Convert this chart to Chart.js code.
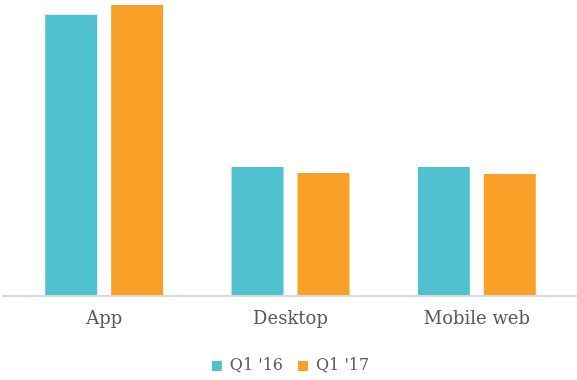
<!DOCTYPE html>
<html>
<head>
<meta charset="utf-8">
<script src="https://cdn.jsdelivr.net/npm/chart.js@4/dist/chart.umd.min.js"></script>
<style>
  html, body { margin: 0; padding: 0; background: #ffffff; }
  #wrap { width: 577px; height: 380px; position: relative; }
</style>
</head>
<body>
<div id="wrap"><canvas id="c"></canvas></div>
<script>
const categories = ["App", "Desktop", "Mobile web"];
const seriesNames = ["Q1 '16", "Q1 '17"];
const q1_16 = [96.6, 44.1, 44.1];
const q1_17 = [100, 42.1, 41.7];
const colors = ["#4fc1cf", "#f9a028"];

const baseline = {
  id: 'baseline',
  afterDatasetsDraw(chart) {
    const y = chart.scales.y.getPixelForValue(0);
    const ctx = chart.ctx;
    ctx.save();
    ctx.strokeStyle = '#d9d9d9';
    ctx.lineWidth = 2;
    ctx.beginPath();
    ctx.moveTo(2, y + 1);
    ctx.lineTo(chart.width, y + 1);
    ctx.stroke();
    ctx.restore();
  }
};

new Chart(document.getElementById('c'), {
  type: 'bar',
  data: {
    labels: categories,
    datasets: [
      { label: seriesNames[0], data: q1_16, backgroundColor: colors[0] },
      { label: seriesNames[1], data: q1_17, backgroundColor: colors[1] }
    ]
  },
  options: {
    responsive: true,
    maintainAspectRatio: false,
    animation: false,
    devicePixelRatio: 1,
    categoryPercentage: 0.708,
    barPercentage: 0.788,
    layout: { padding: { left: 11, right: 7, top: 5, bottom: -4 } },
    scales: {
      x: {
        grid: { display: false, drawTicks: false },
        border: { display: false },
        ticks: { color: '#595959', font: { family: 'DejaVu Serif', size: 18 }, padding: 14 },
        afterFit(scale) { scale.height = 48; }
      },
      y: { display: false, min: 0, max: 100 }
    },
    plugins: {
      legend: {
        position: 'bottom',
        labels: {
          boxWidth: 10, boxHeight: 10, padding: 15,
          color: '#595959',
          font: { family: 'DejaVu Serif', size: 16 }
        }
      },
      tooltip: { enabled: false }
    }
  },
  plugins: [baseline]
});
</script>
</body>
</html>
